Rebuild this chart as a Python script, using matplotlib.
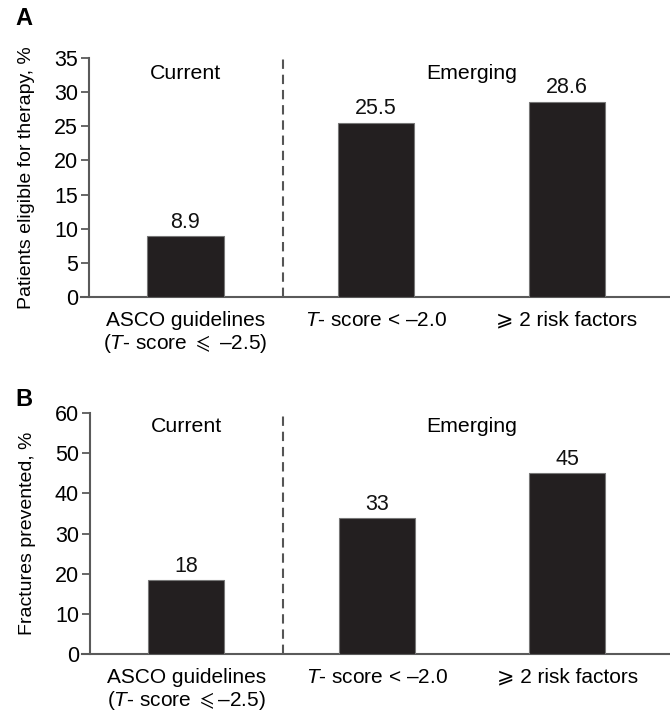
import matplotlib
matplotlib.use("Agg")
import matplotlib.pyplot as plt
import numpy as np

plt.rcParams['font.family'] = ['Liberation Sans', 'DejaVu Sans']
plt.rcParams['mathtext.fontset'] = 'custom'
plt.rcParams['mathtext.rm'] = 'Liberation Sans'
plt.rcParams['mathtext.it'] = 'Liberation Sans:italic'
plt.rcParams['mathtext.fallback'] = 'stixsans'

categories = ["ASCO guidelines\n($\\mathit{T}$- score $\\leqslant$ \u20132.5)",
              "$\\mathit{T}$- score < \u20132.0",
              "\u2a7e 2 risk factors"]
categories_b = ["ASCO guidelines\n($\\mathit{T}$- score $\\leqslant$\u20132.5)",
                "$\\mathit{T}$- score < \u20132.0",
                "\u2a7e 2 risk factors"]
eligible = [8.9, 25.5, 28.6]
eligible_labels = ["8.9", "25.5", "28.6"]
prevented = [18.4, 33.8, 45.0]
prevented_labels = ["18", "33", "45"]
group_names = ["Current", "Emerging"]

W, H = 670, 716
fig = plt.figure(figsize=(W / 100, H / 100), dpi=100)

def px_axes(left, top, right, bottom):
    return fig.add_axes([left / W, 1 - bottom / H, (right - left) / W, (bottom - top) / H])

ax_a = px_axes(89, 58, 670, 297)
ax_b = px_axes(90, 413, 670, 654)

spine_col = '#5a5a5a'
bar_col = '#231f20'
fs_tick = 15.5
fs_val = 15.5
fs_grp = 15.3
fs_cat = 15
fs_ylab = 14

def style(ax, values, labels, cats, ymax, ystep, ylabel, group_y):
    x = np.arange(len(values))
    ax.bar(x, values, width=0.4, color=bar_col, edgecolor='#777777', linewidth=0.8, zorder=3)
    for xi, v, lab in zip(x, values, labels):
        ax.annotate(lab, (xi, v), xytext=(0, 2.5), textcoords='offset points',
                    ha='center', va='bottom', fontsize=fs_val, color='#111111')
    ax.set_xlim(-0.505, 2.54)
    ax.set_ylim(0, ymax)
    ax.set_yticks(np.arange(0, ymax + 0.1, ystep))
    ax.set_xticks(x)
    ax.set_xticklabels(cats, fontsize=fs_cat, linespacing=1.1, va='top')
    ax.tick_params(axis='x', length=0, pad=10)
    ax.tick_params(axis='y', length=6, width=1.3, color=spine_col, labelsize=fs_tick, pad=2)
    for s in ['top', 'right']:
        ax.spines[s].set_visible(False)
    for s in ['left', 'bottom']:
        ax.spines[s].set_color(spine_col)
        ax.spines[s].set_linewidth(1.5)
    ax.spines['bottom'].set_bounds(-0.545, 2.54)
    ax.axvline(0.51, ymin=0, ymax=1, color='#555555', linestyle=(0, (4.5, 2.8)), linewidth=1.5)
    ax.text(0, group_y, group_names[0], ha='center', va='center', fontsize=fs_grp)
    ax.text(1.5, group_y, group_names[1], ha='center', va='center', fontsize=fs_grp)
    ax.set_ylabel(ylabel, fontsize=fs_ylab, va='center')
    ax.yaxis.set_label_coords(-0.108, 0.5)

style(ax_a, eligible, eligible_labels, categories, 35, 5,
      "Patients eligible for therapy, %", 32.8)
style(ax_b, prevented, prevented_labels, categories_b, 60, 10,
      "Fractures prevented, %", 56.6)

fig.text(15 / W, 1 - 25 / H, "A", fontsize=17, fontweight='bold', ha='left', va='baseline')
fig.text(15 / W, 1 - 406 / H, "B", fontsize=17, fontweight='bold', ha='left', va='baseline')

fig.savefig("out.png", dpi=100)
